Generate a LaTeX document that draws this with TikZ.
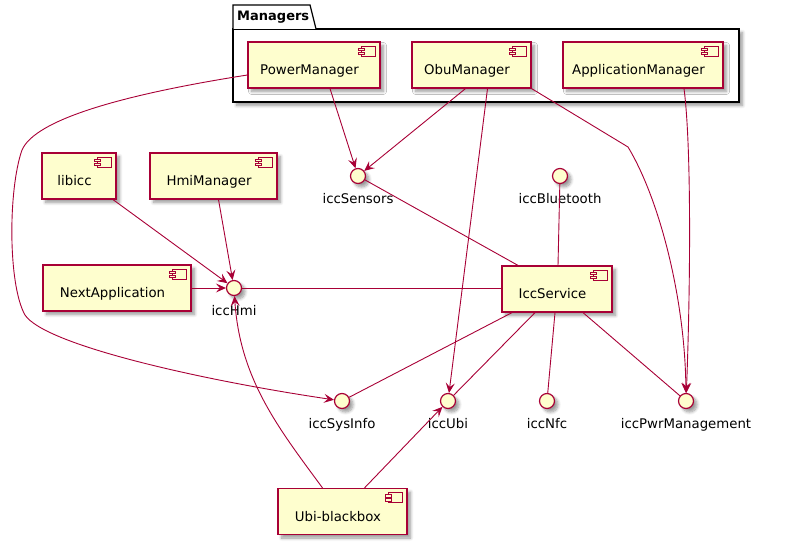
\documentclass[tikz,border=0pt]{standalone}
\usepackage{fontspec}
\setmainfont{DejaVu Sans}
\usetikzlibrary{arrows.meta,shadows.blur,calc}
\definecolor{umlred}{HTML}{A80036}
\definecolor{umlfill}{HTML}{FEFECE}

\tikzset{
  umlshadow/.style={blur shadow={shadow xshift=3.5pt,shadow yshift=-3.5pt,
      shadow blur radius=3pt,shadow blur steps=7,shadow opacity=40}},
  comp/.style={draw=umlred,fill=umlfill,line width=1.2pt,rectangle,
      inner sep=0pt,minimum height=46pt,text height=22pt,text depth=3pt,
      font=\fontsize{13.3}{15}\selectfont,umlshadow},
  iconpart/.style={draw=umlred,fill=umlfill,line width=0.9pt},
  iface/.style={draw=umlred,fill=umlfill,line width=1.2pt,circle,
      minimum size=15pt,inner sep=0pt,umlshadow},
  ilabel/.style={font=\fontsize{13.3}{15}\selectfont,inner sep=0pt},
  link/.style={draw=umlred,line width=0.9pt},
  dep/.style={link,-{Stealth[length=10pt,width=9pt,inset=4pt]}},
  pkgframe/.style={draw=black,line width=1.2pt,fill=white},
}

% a component box with its small icon in the upper right corner
\newcommand\umlcomp[4]{%
  \node[comp,minimum width=#3] (#1) at #2 {#4\hspace*{9pt}};
  \draw[iconpart] ([xshift=-19pt,yshift=-5pt]#1.north east)
      rectangle ([xshift=-5pt,yshift=-15pt]#1.north east);
  \draw[iconpart] ([xshift=-22pt,yshift=-7pt]#1.north east)
      rectangle ([xshift=-16pt,yshift=-9.5pt]#1.north east);
  \draw[iconpart] ([xshift=-22pt,yshift=-11pt]#1.north east)
      rectangle ([xshift=-16pt,yshift=-13.5pt]#1.north east);
}
% a provided interface (lollipop) with its name underneath
\newcommand\umliface[3]{%
  \node[iface,label={[ilabel,label distance=9pt]below:#3}] (#1) at #2 {};
}

\begin{document}
\begin{tikzpicture}[x=1pt,y=-1pt]
  \useasboundingbox (0,0) rectangle (799,548);

  % package "Managers"
  \draw[pkgframe,umlshadow] (233,29) rectangle (739,102);
  \draw[pkgframe] (233,29) -- (233,5) -- (310,5) -- (316,29);
  \node[anchor=base west,inner sep=0pt,font=\fontsize{13}{15}\selectfont\bfseries]
      (pkgname) at (237,21) {Managers};

  % components
  \umlcomp{pm}{(314,65)}{132pt}{PowerManager}
  \umlcomp{obu}{(471.5,65)}{119pt}{ObuManager}
  \umlcomp{app}{(643,65)}{160pt}{ApplicationManager}
  \umlcomp{lib}{(79,176)}{74pt}{libicc}
  \umlcomp{hmim}{(213.5,176)}{127pt}{HmiManager}
  \umlcomp{next}{(117,288)}{148pt}{NextApplication}
  \umlcomp{svc}{(557,289)}{110pt}{IccService}
  \umlcomp{ubb}{(342.5,511.5)}{129pt}{Ubi-blackbox}

  % interfaces
  \umliface{hmi}{(234,288)}{iccHmi}
  \umliface{sens}{(358,176)}{iccSensors}
  \umliface{bt}{(560,176)}{iccBluetooth}
  \umliface{sys}{(342,401)}{iccSysInfo}
  \umliface{ubi}{(448,401)}{iccUbi}
  \umliface{nfc}{(547,401)}{iccNfc}
  \umliface{pwr}{(686,401)}{iccPwrManagement}

  \coordinate (obubend) at (628,147);

  % usage dependencies
  \draw[dep] ([xshift=16pt]pm.south) -- (sens);
  \draw[dep] ([xshift=-6pt]obu.south) -- (sens);
  \draw[dep] ([xshift=16pt]obu.south) -- (ubi);
  \draw[dep] (obu.south east) -- (obubend)
      .. controls (660,200) and (685,300) .. (pwr);
  \draw[dep] ([xshift=41pt]app.south) .. controls (692,150) and (690,300) .. (pwr);
  \draw[dep] ([yshift=-10pt]pm.west) .. controls (120,95) and (35,120) .. (22,150)
      .. controls (8,190) and (8,285) .. (25,315)
      .. controls (45,345) and (200,380) .. (sys);
  \draw[dep] ([xshift=34pt]lib.south) -- (hmi);
  \draw[dep] ([xshift=5pt]hmim.south) -- (hmi);
  \draw[dep] (next) -- (hmi);
  \draw[dep] ([xshift=-20pt]ubb.north) .. controls (280,430) and (240,380) .. (hmi);
  \draw[dep] ([xshift=22pt]ubb.north) -- (ubi);

  % interfaces realised by IccService
  \draw[link] (hmi) -- (hmi -| svc.west);
  \draw[link] (sens) -- ([xshift=-39pt]svc.north);
  \draw[link] (bt) -- ([xshift=1pt]svc.north);
  \draw[link] ([xshift=-45pt]svc.south) -- (sys);
  \draw[link] ([xshift=-22pt]svc.south) -- (ubi);
  \draw[link] ([xshift=-2pt]svc.south) -- (nfc);
  \draw[link] ([xshift=26pt]svc.south) -- (pwr);
\end{tikzpicture}
\end{document}
